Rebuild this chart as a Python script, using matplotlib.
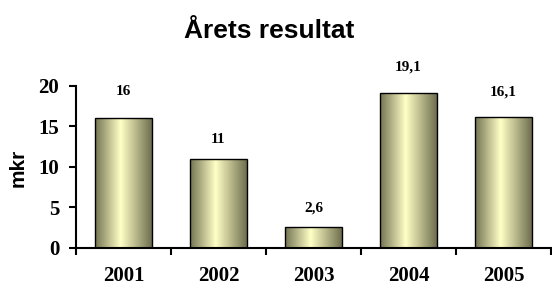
import numpy as np
import matplotlib
matplotlib.use('Agg')
import matplotlib.pyplot as plt
from matplotlib.colors import LinearSegmentedColormap

# data
years = ['2001', '2002', '2003', '2004', '2005']
resultat = [16, 11, 2.6, 19.1, 16.1]
labels = ['16', '11', '2,6', '19,1', '16,1']

fig = plt.figure(figsize=(5.52, 2.86), dpi=100)
ax = fig.add_axes([76/552, 1-247.7/286, 475/552, (247.7-85.7)/286])

x = np.arange(len(years))
bars = ax.bar(x, resultat, width=0.59, facecolor='none', edgecolor='black', linewidth=1.0, zorder=3)

# horisontell gradient i staplarna
cmap = LinearSegmentedColormap.from_list('olive', [(0, '#737353'), (0.45, '#ffffc6'), (1, '#6e6e4e')])
grad = np.linspace(0, 1, 256).reshape(1, -1)
for b in bars:
    x0, y0 = b.get_x(), b.get_y()
    im = ax.imshow(grad, cmap=cmap, aspect='auto', zorder=2,
                   extent=[x0, x0 + b.get_width(), y0, y0 + b.get_height()])
    im.set_clip_path(b)

# dataetiketter
offs = [27, 19, 19, 26, 25]
for xi, v, t, o in zip(x, resultat, labels, offs):
    ax.annotate(t, xy=(xi, v), xytext=(0, o*0.72), textcoords='offset points',
                ha='center', va='center', fontsize=11, fontweight='bold', family='Liberation Serif')

ax.set_xlim(-0.5, 4.5)
ax.set_ylim(0, 20)
ax.set_yticks([0, 5, 10, 15, 20])
ax.set_xticks(np.arange(-0.5, 5, 1))
ax.set_xticklabels([])
ax.set_xticks(x, minor=True)
ax.set_xticklabels(years, minor=True)
ax.tick_params(axis='x', which='major', direction='out', length=5, width=1.5)
ax.tick_params(axis='x', which='minor', length=0, pad=13)
ax.tick_params(axis='y', direction='out', length=5, width=1.5, pad=7)
for lab in ax.get_xticklabels(minor=True) + ax.get_yticklabels():
    lab.set_fontfamily('Liberation Serif')
    lab.set_fontweight('bold')
    lab.set_fontsize(15)

for s in ['top', 'right']:
    ax.spines[s].set_visible(False)
for s in ['left', 'bottom']:
    ax.spines[s].set_linewidth(1.5)
ax.spines['left'].set_bounds(0, 20)

fig.text(0.488, 0.89, 'Årets resultat', ha='center', va='center',
         fontsize=19, fontweight='bold', family='Liberation Sans')
fig.text(18/552, 1-168/286, 'mkr', rotation=90, ha='center', va='center',
         fontsize=15, fontweight='bold', family='Liberation Sans')

fig.savefig('out.png', dpi=100)
